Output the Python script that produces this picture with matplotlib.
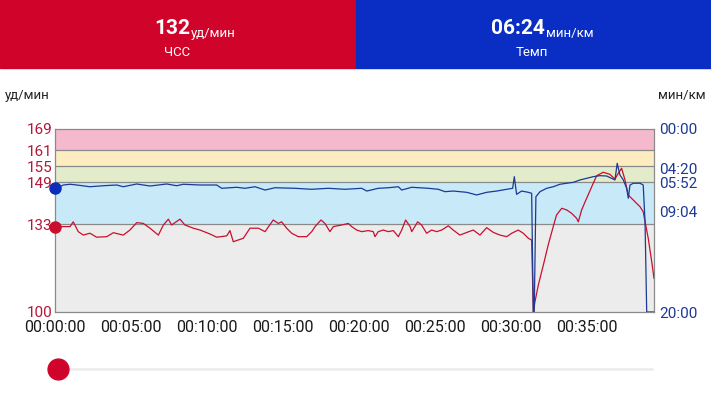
import matplotlib
matplotlib.use("Agg")
import matplotlib.pyplot as plt
from matplotlib.lines import Line2D
from matplotlib.patches import Rectangle

plt.rcParams['font.family'] = ['Roboto', 'DejaVu Sans']

# --- data (time in minutes)
hr_t = [0, 0.99, 1.2, 1.53, 1.86, 2.30, 2.74, 3.40, 3.84, 4.49, 4.93, 5.38, 5.81, 6.25,
        6.80, 7.13, 7.46, 7.67, 8.22, 8.55, 9.10, 9.54, 10.2, 10.64, 11.3, 11.51, 11.73,
        12.39, 12.83, 13.38, 13.82, 14.36, 14.69, 14.91, 15.24, 15.57, 16.01, 16.56, 16.89,
        17.11, 17.5, 17.76, 18.09, 18.31, 18.86, 19.3, 19.52, 19.85, 20.18, 20.61, 20.94,
        21.05, 21.27, 21.6, 21.93, 22.26, 22.59, 22.81, 23.07, 23.36, 23.47, 23.86, 24.12,
        24.45, 24.78, 25.11, 25.44, 25.88, 26.2, 26.64, 27.09, 27.52, 27.96, 28.4, 28.84,
        29.28, 29.72, 30.05, 30.48, 30.81, 31.14, 31.36, 31.47, 31.58, 31.8, 32.13, 32.45,
        32.78, 33.0, 33.34, 33.66, 33.99, 34.32, 34.43, 34.65, 34.98, 35.31, 35.64, 36.07,
        36.51, 36.84, 37.06, 37.28, 37.5, 37.72, 38.05, 38.49, 38.7, 39.03, 39.26, 39.41]
hr_bpm = [132.2, 132.2, 134.0, 130.3, 129.0, 129.7, 128.2, 128.4, 129.9, 129.0, 130.9, 133.7,
          133.4, 131.6, 129.0, 132.8, 135.0, 132.8, 135.0, 132.8, 131.6, 130.9, 129.4, 128.2,
          128.7, 130.7, 126.5, 127.8, 131.6, 131.6, 130.3, 134.7, 133.4, 134.0, 131.6, 129.7,
          128.4, 128.4, 130.3, 132.2, 134.7, 133.4, 130.3, 132.2, 132.8, 133.4, 132.2, 130.9,
          130.3, 130.7, 130.3, 128.4, 130.3, 130.9, 130.3, 130.7, 128.4, 130.9, 134.7, 132.2,
          130.3, 134.0, 132.8, 129.7, 130.9, 130.3, 130.9, 132.5, 130.9, 129.0, 130.0, 130.9,
          129.0, 131.8, 130.0, 129.0, 128.4, 129.7, 130.9, 129.7, 127.8, 127.1, 100.0, 103.9,
          110.2, 117.7, 125.3, 132.2, 136.6, 139.1, 138.5, 137.2, 135.3, 134.0, 138.5, 142.9,
          147.2, 151.4, 152.7, 151.9, 150.1, 152.3, 154.2, 149.8, 144.1, 142.2, 139.7, 137.8,
          127.8, 119.0, 112.7]

pace_t = [0, 0.33, 0.55, 0.99, 1.43, 2.30, 3.18, 4.06, 4.49, 5.38, 6.25, 7.35, 8.01, 8.44,
          9.54, 10.64, 10.97, 11.95, 12.5, 13.16, 13.82, 14.47, 15.79, 16.89, 17.98, 19.08,
          20.18, 20.51, 21.27, 21.93, 22.59, 22.81, 23.47, 24.56, 25.22, 25.66, 26.2, 27.09,
          27.74, 28.4, 29.06, 29.72, 30.11, 30.22, 30.37, 30.7, 31.14, 31.36, 31.47, 31.53,
          31.64, 31.91, 32.35, 32.78, 33.22, 33.66, 34.1, 34.54, 34.98, 35.41, 35.86, 36.3,
          36.62, 36.84, 36.99, 37.17, 37.39, 37.61, 37.72, 37.83, 38.05, 38.49, 38.7, 38.82,
          38.93, 39.41]
pace_min = [6.42, 6.31, 6.12, 6.04, 6.12, 6.31, 6.20, 6.12, 6.31, 6.01, 6.23, 6.01, 6.20,
            6.04, 6.12, 6.12, 6.48, 6.37, 6.48, 6.31, 6.67, 6.42, 6.48, 6.59, 6.48, 6.59,
            6.48, 6.78, 6.48, 6.42, 6.31, 6.67, 6.37, 6.48, 6.59, 6.85, 6.78, 6.92, 7.21,
            6.92, 6.78, 6.59, 6.48, 5.21, 7.14, 6.78, 6.92, 7.03, 20.0, 20.0, 7.40, 6.85,
            6.48, 6.31, 6.04, 5.93, 5.83, 5.57, 5.39, 5.21, 5.10, 5.14, 5.39, 5.57, 3.75,
            5.03, 5.57, 6.48, 7.57, 6.12, 5.93, 5.93, 6.12, 10.13, 20.0, 20.0]

zone_edges = [100, 133, 149, 155, 161, 169]
zone_colors = ['#ececec', '#c8e9f8', '#e2eccb', '#fcecc0', '#f5b9cd']
hr_ticks = [100, 133, 149, 155, 161, 169]
pace_ticks = [0, 4 + 20 / 60, 5 + 52 / 60, 9 + 4 / 60, 20]
pace_labels = ['00:00', '04:20', '05:52', '09:04', '20:00']
time_ticks = [0, 5, 10, 15, 20, 25, 30, 35]
time_labels = ['00:%02d:00' % m for m in time_ticks]

cur_hr = '132'
cur_pace = '06:24'

RED = '#d0042a'
BLUE = '#0a2ec4'
HR_COL = '#c8102e'
PACE_COL = '#1b3a94'
W, H = 711, 400

fig = plt.figure(figsize=(W / 100, H / 100), dpi=100)

# header panels
fig.add_artist(Rectangle((0, 1 - 68 / H), 355.5 / W, 68 / H, transform=fig.transFigure,
                         color=RED, zorder=0))
fig.add_artist(Rectangle((355.5 / W, 1 - 68 / H), 1 - 355.5 / W, 68 / H,
                         transform=fig.transFigure, color=BLUE, zorder=0))


def header(xsplit, big, unit, label, xc):
    fig.text(xsplit / W, 1 - 34 / H, big, ha='right', va='baseline', color='white',
             fontsize=15, fontweight='bold')
    fig.text((xsplit + 1) / W, 1 - 37 / H, unit, ha='left', va='baseline', color='white',
             fontsize=9.5)
    fig.text(xc / W, 1 - 53 / H, label, ha='center', va='center', color='white', fontsize=9.5)


header(190, cur_hr, 'уд/мин', 'ЧСС', 177)
header(545, cur_pace, 'мин/км', 'Темп', 532)

fig.text(5 / W, 1 - 95 / H, 'уд/мин', ha='left', va='center', fontsize=9.5, color='#222222')
fig.text(706 / W, 1 - 95 / H, 'мин/км', ha='right', va='center', fontsize=9.5, color='#222222')

# main chart
ax = fig.add_axes([55 / W, 1 - 312 / H, (654 - 55) / W, (312 - 129) / H])
for lo, hi, c in zip(zone_edges[:-1], zone_edges[1:], zone_colors):
    ax.axhspan(lo, hi, color=c, lw=0, zorder=0)
for e in zone_edges[1:-1]:
    ax.axhline(e, color='#8a8a8a', lw=0.9, zorder=1)
ax.plot(hr_t, hr_bpm, color=HR_COL, lw=0.9, zorder=3)
ax.plot([0], [hr_bpm[0]], 'o', color=HR_COL, ms=8, clip_on=False, zorder=6)
ax.set_xlim(0, 39.41)
ax.set_ylim(100, 169)
ax.set_yticks(hr_ticks)
ax.set_yticklabels([str(v) for v in hr_ticks], color='#b5173a', fontsize=11)
ax.set_xticks(time_ticks)
ax.set_xticklabels(time_labels, fontsize=11.5, color='#1a1a1a')
ax.tick_params(length=0, pad=2)
ax.tick_params(axis='x', pad=6)
for s in ax.spines.values():
    s.set_color('#8a8a8a')
    s.set_linewidth(0.9)

ax2 = ax.twinx()
ax2.plot(pace_t, pace_min, color=PACE_COL, lw=0.9, zorder=4)
ax2.plot([0], [pace_min[0]], 'o', color='#0a2eb8', ms=8, clip_on=False, zorder=6)
ax2.set_ylim(20, 0)
ax2.set_yticks(pace_ticks)
ax2.set_yticklabels(pace_labels, color='#1b3a94', fontsize=11)
ax2.tick_params(length=0, pad=4)
for s in ax2.spines.values():
    s.set_visible(False)

# time slider
fig.add_artist(Line2D([55 / W, 652 / W], [1 - 369 / H, 1 - 369 / H], transform=fig.transFigure,
                      color='#ececec', lw=1.8))
fig.add_artist(Line2D([58 / W], [1 - 369 / H], transform=fig.transFigure, marker='o',
                      ms=15, color=RED, lw=0))

fig.savefig('out.png', dpi=100, facecolor='white')
